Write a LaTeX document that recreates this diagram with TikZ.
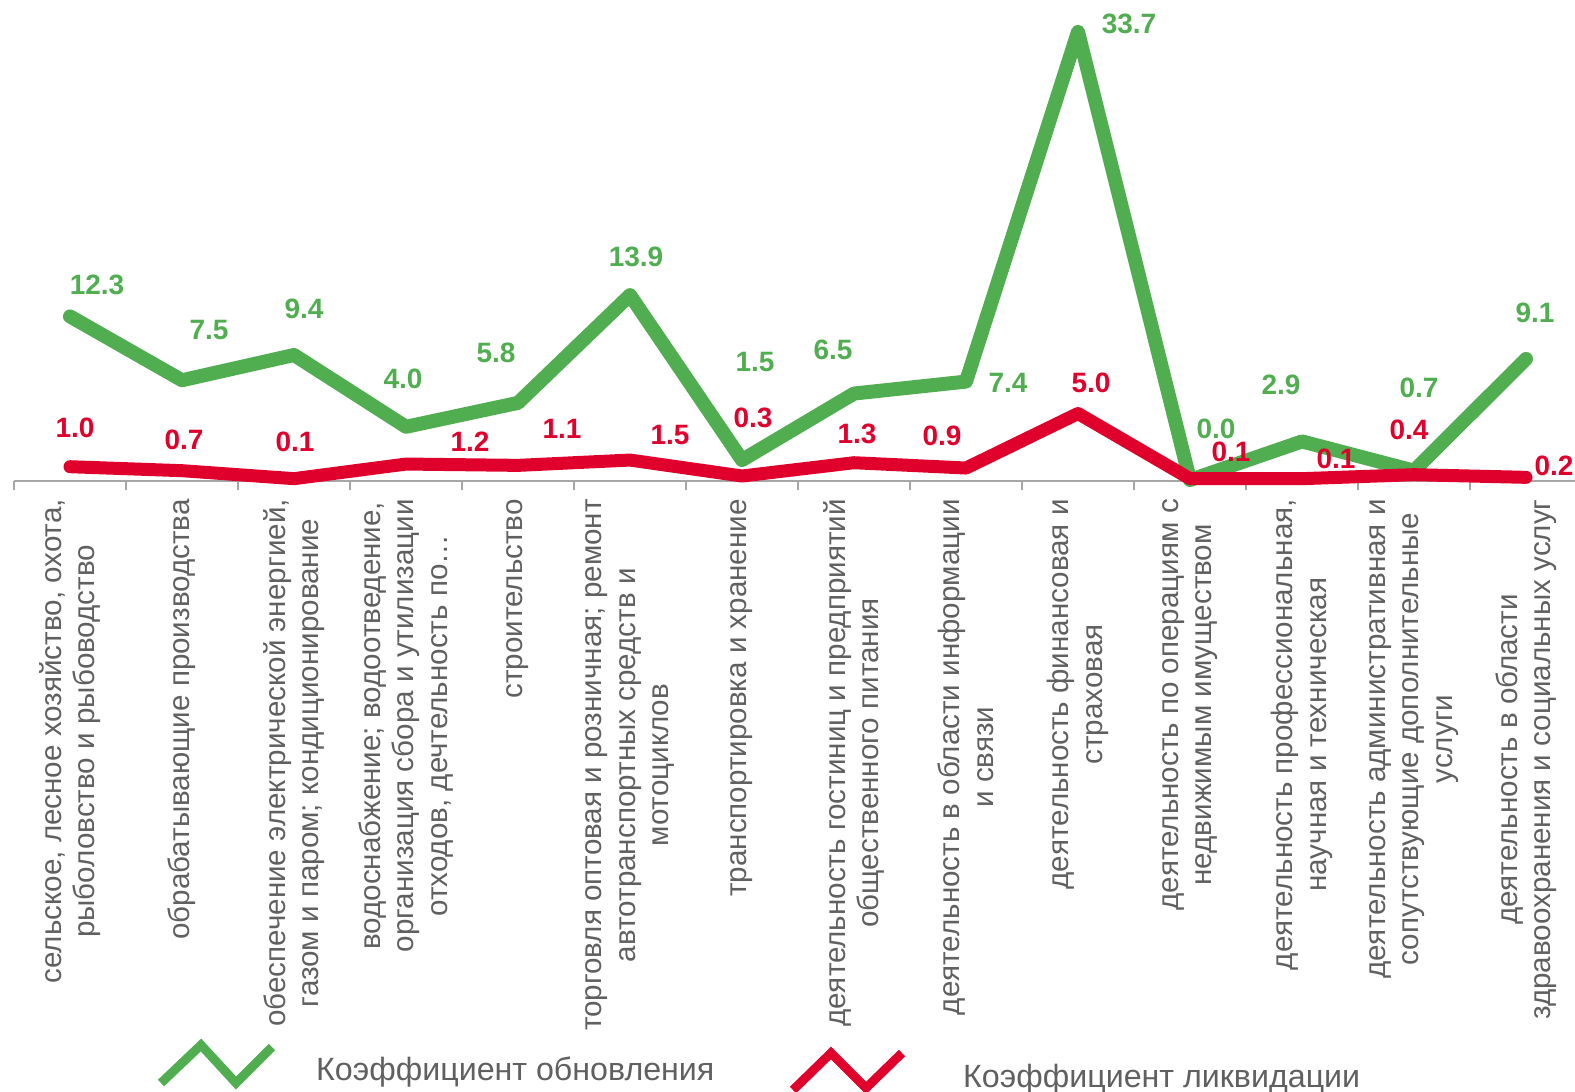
\documentclass[tikz,border=0pt]{standalone}
\usepackage{fontspec}
\setmainfont{Liberation Sans}
\usepackage{tikz}
\usetikzlibrary{positioning}
\definecolor{renew}{RGB}{80,174,80}
\definecolor{liquid}{RGB}{224,0,44}
\definecolor{axisgray}{RGB}{166,166,166}
\definecolor{labelgray}{RGB}{96,96,96}
\tikzset{
	catlabel/.style={
		rotate=90,
		anchor=east,
		align=center,
		inner sep=0pt,
		text=labelgray,
		font=\fontsize{29.6}{33.5}\selectfont
	},
	vallabel/.style={inner sep=0pt, font=\bfseries\fontsize{28}{28}\selectfont},
	series/.style={line width=14pt, line join=round, line cap=round},
	axisline/.style={axisgray, line width=1.5pt},
	legendtext/.style={anchor=west, inner sep=0pt, text=labelgray, font=\fontsize{32.2}{32.2}\selectfont}
}

\begin{document}
\begin{tikzpicture}[x=1pt, y=-1pt]
	\useasboundingbox (0,0) rectangle (1575,1092);
	\draw [axisline] (14,481) coordinate (axl) -- (1575,481) coordinate (axr);
	\foreach \i in {0,...,13} \draw [axisline] ({14+112*\i},481) -- ++(0,9);
	\foreach \g [count=\i] in {12.3,7.5,9.4,4.0,5.8,13.9,1.5,6.5,7.4,33.7,0.0,2.9,0.7,9.1}
		\coordinate (g\i) at ({112*\i-42},{480-13.3*\g});
	\foreach \r [count=\i] in {1.0,0.7,0.1,1.2,1.1,1.5,0.3,1.3,0.9,5.0,0.1,0.1,0.4,0.2}
		\coordinate (r\i) at ({112*\i-42},{480-13.3*\r});
	\draw [series, renew] (g1) \foreach \i in {2,...,14} {-- (g\i)};
	\draw [series, liquid, line width=13pt] (r1) \foreach \i in {2,...,14} {-- (r\i)};
	\foreach \v/\x/\y [count=\i] in {12.3/97/285, 7.5/209/330, 9.4/304/309, 4.0/403/379, 5.8/496/353, 13.9/636/257, 1.5/755/362, 6.5/833/350, 7.4/1008/383, 33.7/1129/24, 0.0/1216/429, 2.9/1281/385, 0.7/1419/388, 9.1/1535/313}
		\node [vallabel, text=renew] (gl\i) at (\x,\y) {\v};
	\foreach \v/\x/\y [count=\i] in {1.0/75/428, 0.7/184/440, 0.1/295/442, 1.2/470/442, 1.1/562/429, 1.5/670/435, 0.3/753/418, 1.3/857/434, 0.9/942/436, 5.0/1091/383, 0.1/1231/452, 0.1/1336/459, 0.4/1409/430, 0.2/1554/466}
		\node [vallabel, text=liquid] (rl\i) at (\x,\y) {\v};
	\foreach \t [count=\i] in {
		{сельское, лесное хозяйство, охота,\\рыболовство и рыбоводство},
		{обрабатывающие производства},
		{обеспечение электрической энергией,\\газом и паром; кондиционирование},
		{водоснабжение; водоотведение,\\организация сбора и утилизации\\отходов, дечтельность по…},
		{строительство},
		{торговля оптовая и розничная; ремонт\\автотранспортных средств и\\мотоциклов},
		{транспортировка и хранение},
		{деятельность гостиниц и предприятий\\общественного питания},
		{деятельность в области информации\\и связи},
		{деятельность финансовая и\\страховая},
		{деятельность по операциям с\\недвижимым имуществом},
		{деятельность профессиональная,\\научная и техническая},
		{деятельность административная и\\сопутствующие дополнительные\\услуги},
		{деятельность в области\\здравоохранения и социальных услуг}}
		\node [catlabel] (cat\i) at ({112*\i-42},499) {\t};
	\draw [renew, line width=9pt] (161,1083) coordinate (gk1) -- (201,1045) -- (236,1083) -- (272,1047) coordinate (gk2);
	\node [legendtext] (legrenew) at (316,1072) {Коэффициент обновления};
	\draw [liquid, line width=9pt] (793,1090) coordinate (rk1) -- (831,1053) -- (866,1088) -- (902,1053) coordinate (rk2);
	\node [legendtext] (legliquid) at (963,1079) {Коэффициент ликвидации};
\end{tikzpicture}
\end{document}
